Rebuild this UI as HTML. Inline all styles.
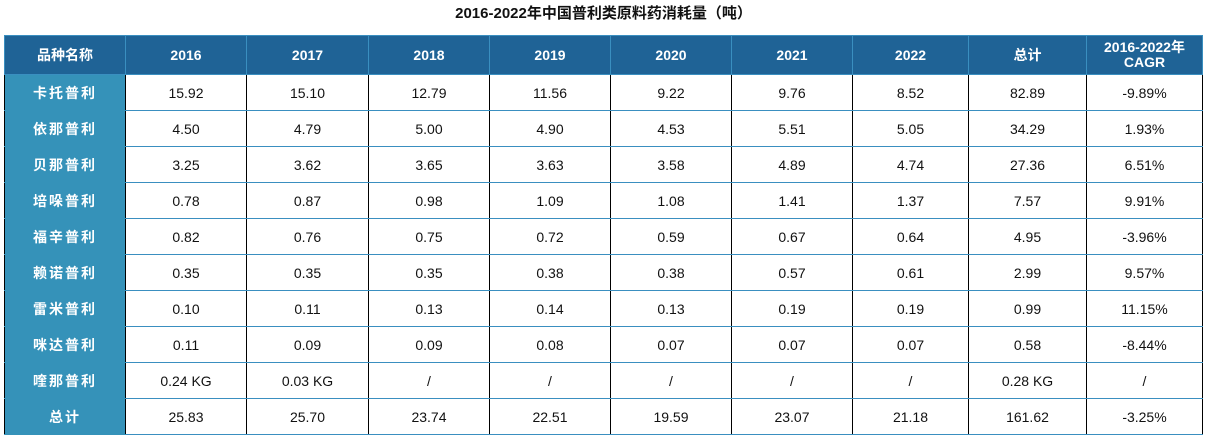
<!DOCTYPE html>
<html><head><meta charset="utf-8"><style>
body{margin:0;width:1207px;height:435px;background:#fff;overflow:hidden;font-family:"Liberation Sans","Noto Sans CJK SC",sans-serif;}
.t{position:absolute;top:2px;left:0;width:1207px;text-align:center;font-weight:bold;font-size:15px;color:#111;}
table{position:absolute;left:4px;top:35px;border-collapse:collapse;table-layout:fixed;}
td{height:35px;padding:0;text-align:center;font-size:14px;color:#111;border-left:1px solid #000;border-right:1px solid #000;border-bottom:1px solid #3a8fc0;}
tr.h td{height:38px;background:#1f6396;color:#fff;font-weight:bold;border:1px solid #3a8fc0;font-size:14px;line-height:15px;}
td.f{background:#3592b9;color:#fff;font-weight:bold;letter-spacing:2px;border-bottom:1px solid #3592b9;}
</style></head><body>
<div class="t">2016-2022年中国普利类原料药消耗量（吨）</div>
<table>
<colgroup><col style="width:121px"><col style="width:121px"><col style="width:122px"><col style="width:121px"><col style="width:121px"><col style="width:121px"><col style="width:121px"><col style="width:116px"><col style="width:118px"><col style="width:116px"></colgroup>
<tr class="h"><td>品种名称</td><td>2016</td><td>2017</td><td>2018</td><td>2019</td><td>2020</td><td>2021</td><td>2022</td><td>总计</td><td>2016-2022年<br>CAGR</td></tr>
<tr><td class="f">卡托普利</td><td>15.92</td><td>15.10</td><td>12.79</td><td>11.56</td><td>9.22</td><td>9.76</td><td>8.52</td><td>82.89</td><td>-9.89%</td></tr>
<tr><td class="f">依那普利</td><td>4.50</td><td>4.79</td><td>5.00</td><td>4.90</td><td>4.53</td><td>5.51</td><td>5.05</td><td>34.29</td><td>1.93%</td></tr>
<tr><td class="f">贝那普利</td><td>3.25</td><td>3.62</td><td>3.65</td><td>3.63</td><td>3.58</td><td>4.89</td><td>4.74</td><td>27.36</td><td>6.51%</td></tr>
<tr><td class="f">培哚普利</td><td>0.78</td><td>0.87</td><td>0.98</td><td>1.09</td><td>1.08</td><td>1.41</td><td>1.37</td><td>7.57</td><td>9.91%</td></tr>
<tr><td class="f">福辛普利</td><td>0.82</td><td>0.76</td><td>0.75</td><td>0.72</td><td>0.59</td><td>0.67</td><td>0.64</td><td>4.95</td><td>-3.96%</td></tr>
<tr><td class="f">赖诺普利</td><td>0.35</td><td>0.35</td><td>0.35</td><td>0.38</td><td>0.38</td><td>0.57</td><td>0.61</td><td>2.99</td><td>9.57%</td></tr>
<tr><td class="f">雷米普利</td><td>0.10</td><td>0.11</td><td>0.13</td><td>0.14</td><td>0.13</td><td>0.19</td><td>0.19</td><td>0.99</td><td>11.15%</td></tr>
<tr><td class="f">咪达普利</td><td>0.11</td><td>0.09</td><td>0.09</td><td>0.08</td><td>0.07</td><td>0.07</td><td>0.07</td><td>0.58</td><td>-8.44%</td></tr>
<tr><td class="f">喹那普利</td><td>0.24 KG</td><td>0.03 KG</td><td>/</td><td>/</td><td>/</td><td>/</td><td>/</td><td>0.28 KG</td><td>/</td></tr>
<tr><td class="f">总计</td><td>25.83</td><td>25.70</td><td>23.74</td><td>22.51</td><td>19.59</td><td>23.07</td><td>21.18</td><td>161.62</td><td>-3.25%</td></tr>
</table>
</body></html>
